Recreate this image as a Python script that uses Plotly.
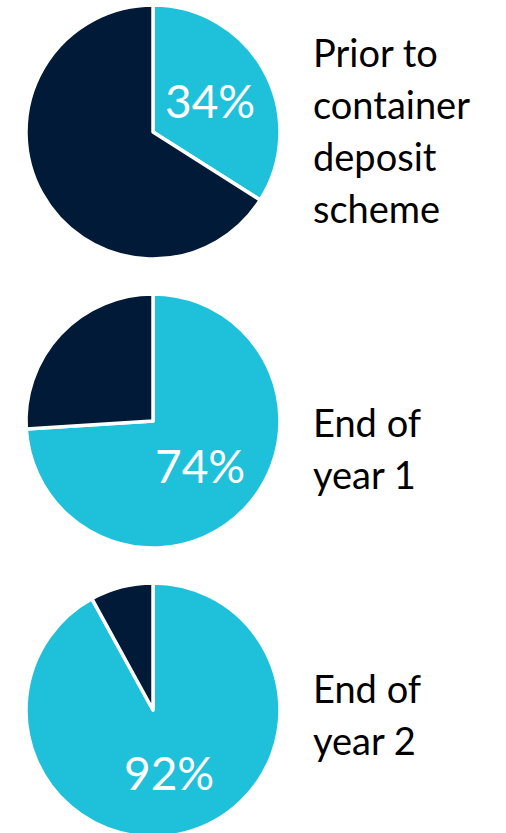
import math
import plotly.graph_objects as go

# ---- data ----
stages = ["Prior to container deposit scheme", "End of year 1", "End of year 2"]
label_lines = [["Prior to", "container", "deposit", "scheme"],
               ["End of", "year 1"],
               ["End of", "year 2"]]
returned_pct = [34, 74, 92]
slice_names = ["Returned", "Not returned"]

# ---- style ----
W, H = 506, 840
CYAN = "#1FC1DA"
NAVY = "#001A38"
FONT = "Lato"

cx_px = 153
centers_px = [132, 421, 710]
radius_px = 127
label_x_px = 311
label_first_baseline = [67, 437, 703]
line_gap = 52
label_size = 38
pct_size = 46


def py(y_px):
    return (H - y_px) / H


def px(x_px):
    return x_px / W


fig = go.Figure()
annotations = []
for i, pct in enumerate(returned_pct):
    cy = centers_px[i]
    y0 = max(0.0, py(cy + radius_px))
    y1 = min(1.0, py(cy - radius_px))
    fig.add_trace(go.Pie(
        labels=slice_names,
        values=[pct, 100 - pct],
        sort=False,
        direction="clockwise",
        rotation=0,
        marker=dict(colors=[CYAN, NAVY], line=dict(color="white", width=3.5)),
        textinfo="none",
        hoverinfo="label+percent",
        showlegend=False,
        domain=dict(x=[px(cx_px - radius_px), px(cx_px + radius_px)], y=[y0, y1]),
        name=stages[i],
    ))
    # percentage label at middle angle of the returned slice, ~half radius
    ang = math.radians(pct / 100 * 360 / 2)
    tx = cx_px + 0.51 * radius_px * math.sin(ang)
    ty = cy - 0.51 * radius_px * math.cos(ang)
    annotations.append(dict(
        x=px(tx), y=py(ty), xref="paper", yref="paper",
        text=f"{pct}%", showarrow=False, xanchor="center", yanchor="middle",
        font=dict(family=FONT, size=pct_size, color="white"),
    ))
    for j, line in enumerate(label_lines[i]):
        base = label_first_baseline[i] + j * line_gap
        annotations.append(dict(
            x=px(label_x_px), y=py(base - 0.4 * label_size), xref="paper", yref="paper",
            text=line, showarrow=False, xanchor="left", yanchor="middle",
            font=dict(family=FONT, size=label_size, color="black"),
        ))

fig.update_layout(
    width=W, height=H,
    margin=dict(l=0, r=0, t=0, b=0, pad=0),
    paper_bgcolor="white", plot_bgcolor="white",
    annotations=annotations,
)

fig.write_html(
    "out.html",
    config={"displayModeBar": False},
    post_script="document.body.style.margin='0px';document.body.style.overflow='hidden';",
)
